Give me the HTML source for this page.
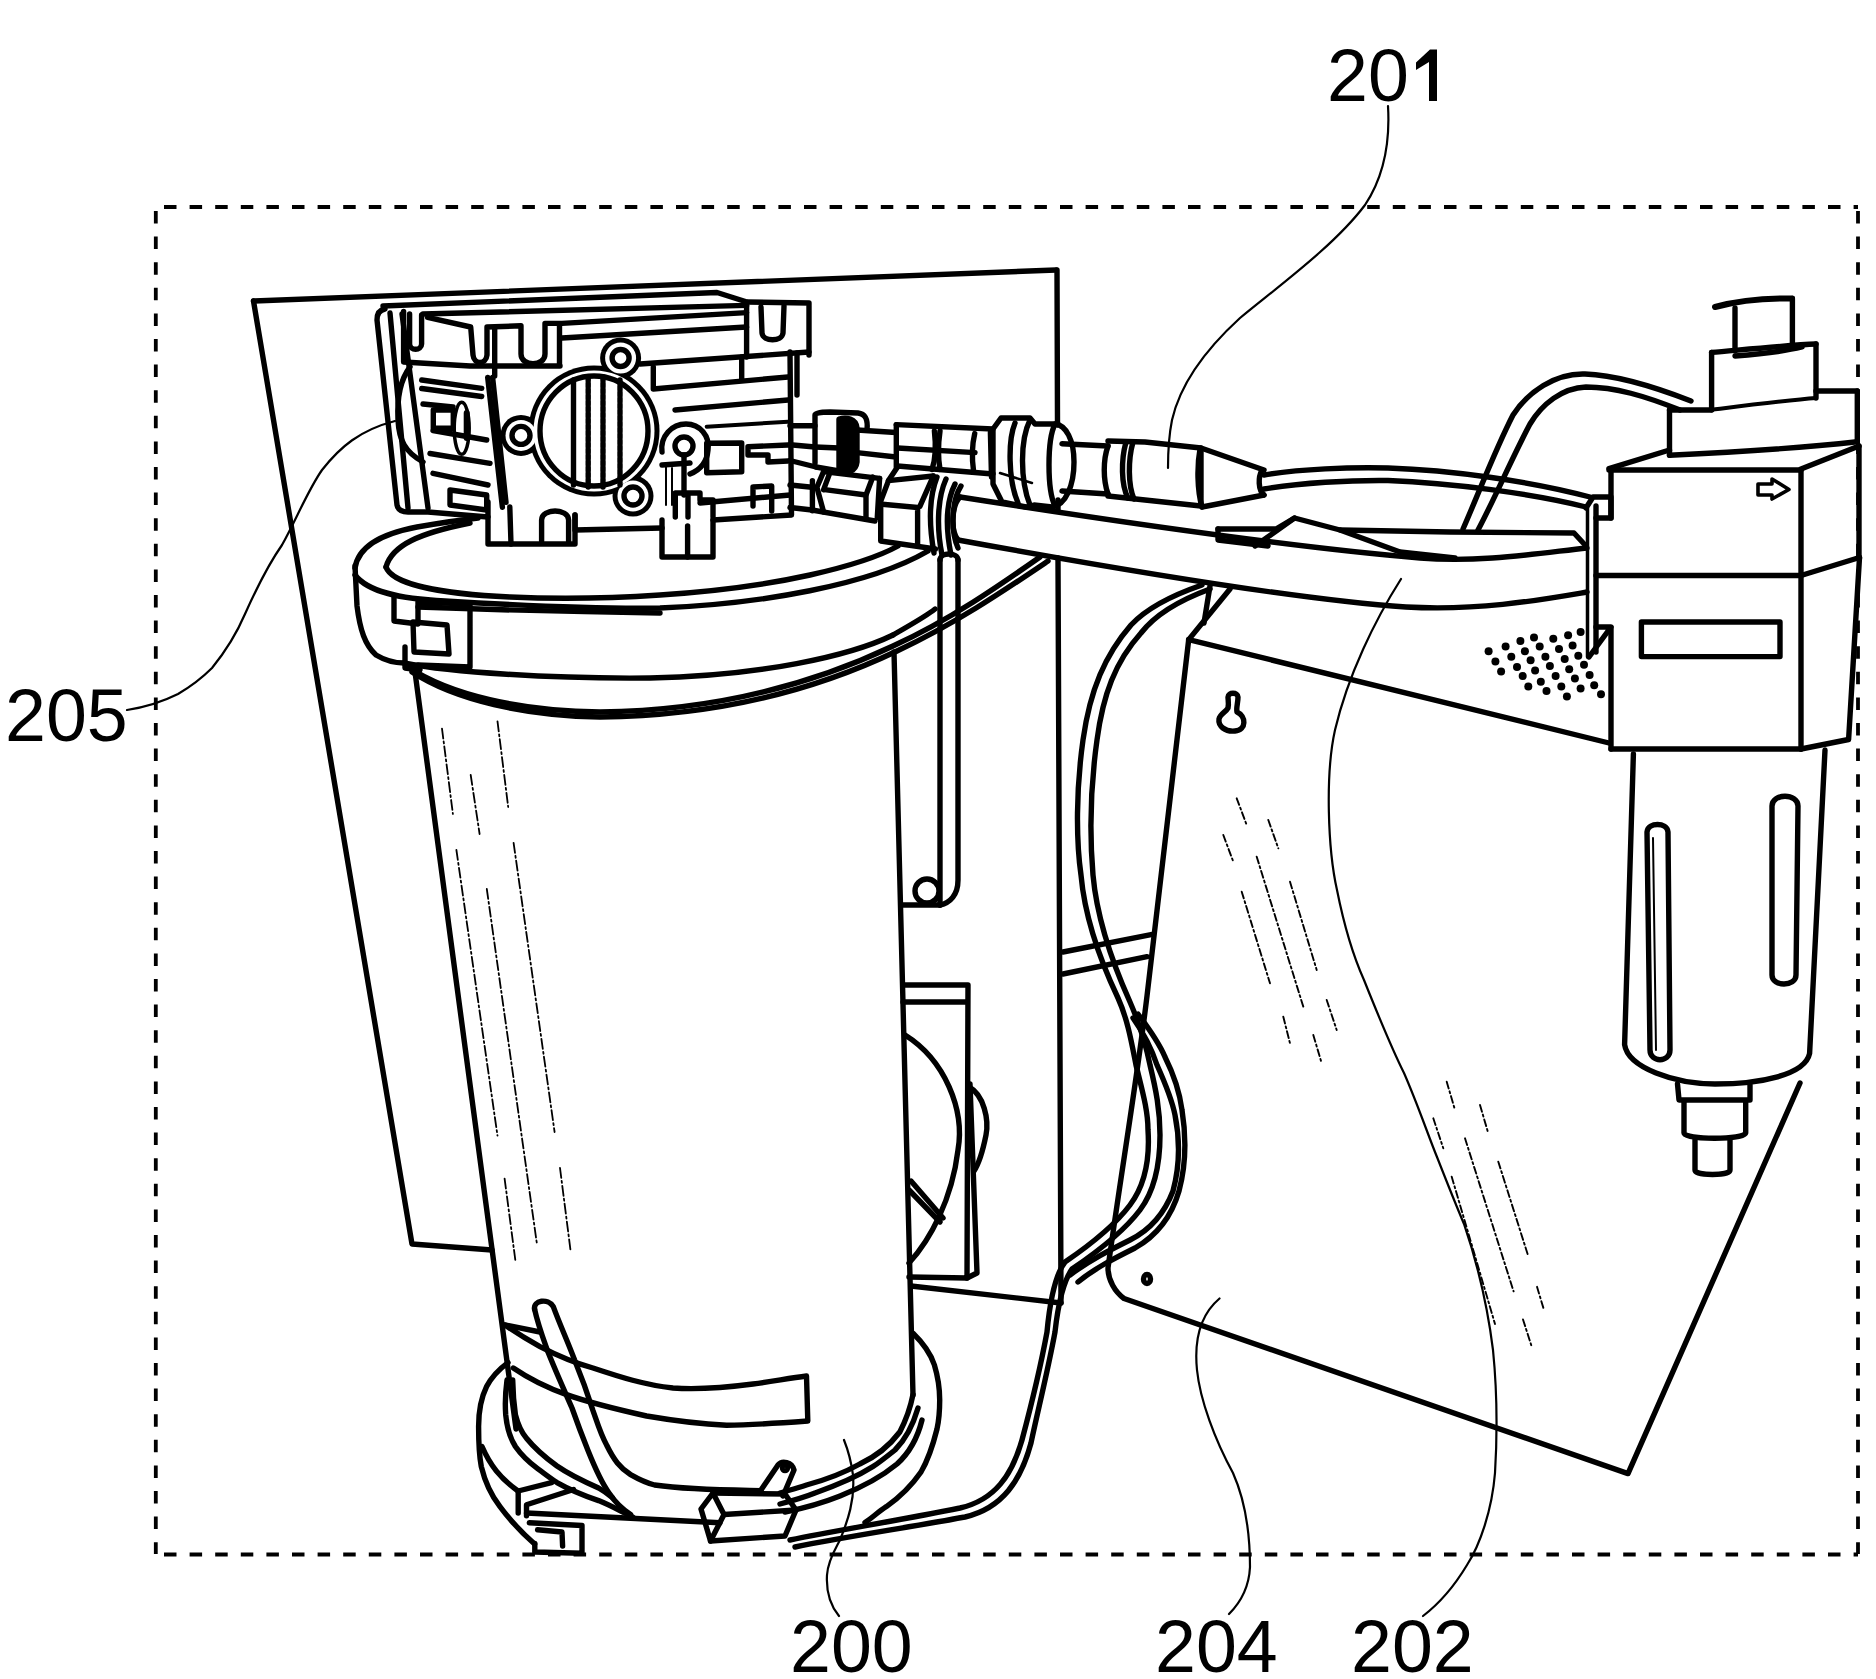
<!DOCTYPE html>
<html><head><meta charset="utf-8"><title>Figure</title>
<style>
html,body{margin:0;padding:0;background:#fff;}
body{width:1876px;height:1679px;overflow:hidden;}
svg{display:block;}
.t{font-family:"Liberation Sans",sans-serif;font-size:73.5px;fill:#000;}
</style></head><body>
<svg width="1876" height="1679" viewBox="0 0 1876 1679">
<rect x="0" y="0" width="1876" height="1679" fill="#fff"/>
<g fill="none" stroke="#000" stroke-linecap="round" stroke-linejoin="round">

<!-- dashed boundary -->
<g stroke-width="3.8" stroke-dasharray="12.5 13.1" stroke-linecap="butt">
<path d="M164 207 H1858"/>
<path d="M164 1554.5 H1858"/>
<path d="M155.8 211 V1554"/>
<path d="M1858 211 V1554"/>
</g>


<!-- ===== BACK PLATE ===== -->
<g stroke-width="5.4">
<path d="M253.5 301 L1056 270"/>
<path d="M253.5 301 L412 1244 L492 1250"/>
<path d="M1057 270 L1057.5 425 M1058 500 L1058 510 M1058 558 L1061 1303"/>
<path d="M911 1286 L1061 1303"/>
</g>

<!-- ===== CYLINDER 200 ===== -->
<g stroke-width="5.4">
<!-- band outer top -->
<path d="M355 568 C358 548 380 534 417 527 C440 523 460 520 478 518"/>
<!-- lid inner -->
<path d="M386 567 C392 545 420 533 470 523"/>
<path d="M386 567 C392 584 440 594 510 597 C600 601 720 595 810 575 C850 566 880 556 898 546"/>
<path d="M355 575 C368 592 400 599 445 601 C530 606 600 609 660 608 C760 604 870 585 928 551"/>
<path d="M418 607 C500 610 580 612 660 613"/>
<!-- band left side -->
<path d="M355 566 L357 606 C360 630 365 645 376 655 C386 661 395 663 404 663"/>
<!-- band bottom edge -->
<path d="M404 663 C450 672 550 679 650 678 C760 676 850 656 893 635"/>
<path d="M893 635 C910 625 925 617 935 609"/>
<!-- rim double -->
<path d="M408 667 C450 695 520 711 600 712 C700 711 800 690 893 646 C950 620 1000 585 1040 557"/>
<path d="M412 672 C455 700 525 716 600 717 C705 716 805 695 897 651 C955 624 1005 590 1048 561"/>
<!-- clip on band -->
<path d="M394 597 L394 621 L418 624 L418 602 L470 604 L470 667 L418 665"/>
<path d="M413 622 L447 625 L449 654 L414 652 Z"/>
<path d="M405 647 L405 668 L420 670"/>
<!-- body edges -->
<path d="M415 672 L516 1429"/>
<path d="M894 652 L913 1395"/>
</g>
<!-- cylinder shading dashes -->
<g stroke-width="1.8" stroke-dasharray="10 3 2 3">
<path d="M442 728.6 L452.9 814"/><path d="M497.5 721.4 L508.2 807"/><path d="M470.7 775 L479.6 834"/>
<path d="M456.4 850 L497.5 1135.7"/><path d="M486.8 889 L536.8 1243"/><path d="M513.6 842.9 L554.6 1132"/>
<path d="M504.6 1178.6 L515.4 1260.7"/><path d="M560 1168 L570.7 1251.8"/>
</g>

<!-- cylinder bottom -->
<g stroke-width="5.4">
<!-- strap -->
<path d="M505 1325 C515 1332 528 1340 540 1346.6 C560 1357 575 1363 593 1368 C620 1377 645 1385 673 1388 C700 1390 730 1387 753 1384 C775 1381 790 1378 806.5 1376 L807.8 1421 C780 1423 750 1425 726.5 1425.3 C700 1424 670 1420 646.6 1416 C620 1410 590 1403 566.6 1394.6 C545 1387 528 1378 513.3 1368"/>
<path d="M505 1325 L540 1332"/>
<!-- inner tube -->
<path d="M534.6 1309.3 C533 1300 548 1298 553.3 1306.6 C560 1325 568 1342 574.6 1360 C582 1378 588 1395 593 1410.6 C598 1425 601 1435 606.6 1445 C614 1460 620 1468 630.6 1474.6 C640 1480 647 1483 654.6 1485 C690 1490 725 1490 761 1490.6"/>
<path d="M534.6 1309.3 C538 1325 543 1338 548 1352 C556 1372 565 1392 572 1408 C578 1425 583 1438 588 1450.6 C595 1468 601 1482 609 1493 C615 1502 622 1509 630.6 1514.5"/>
<!-- cylinder bottom rim right (double) -->
<path d="M913 1394.6 C910 1410 905 1422 899.8 1432 C890 1445 875 1457 859.8 1464 C842 1474 825 1480 806.5 1485 C797 1488 790 1490 780 1493"/>
<path d="M918 1408 C913 1425 905 1440 895 1450 C885 1458 880 1462 873 1466.6 C855 1478 835 1486 815 1493 C805 1497 795 1500 780 1504"/>
<path d="M922 1420 C917 1440 907 1455 897 1464 C880 1478 860 1488 840 1496 C820 1504 805 1508 785 1512"/>
<!-- base ring outer -->
<path d="M508 1362.6 C498 1370 491 1378 486.6 1386.6 C481 1398 478.6 1412 478.6 1426.6 C478.6 1442 479 1455 481.3 1466.6 C485 1482 491 1495 500 1506.6 C510 1520 522 1533 534.6 1544"/>
<path d="M913 1333.3 C922 1342 930 1352 934.4 1365 C938 1377 939.7 1388 939.7 1400 C939.7 1410 939 1420 937 1429 C933 1445 928 1460 921 1472 C912 1485 900 1497 886.4 1506.6 C878 1512 872 1518 865 1522.5"/>
<!-- base ring inner -->
<path d="M507 1380 C505 1395 505 1405 505.7 1414.7 C507 1428 510 1438 515.4 1446.5 C522 1456 530 1463 537.6 1468.7 C545 1474 550 1478 557 1482.6 C570 1490 585 1496 598.6 1500.6 C612 1506 622 1512 633 1517.2"/>
<path d="M512.7 1380 C513 1395 514 1405 515.4 1414.7 C518 1425 521 1432 526.5 1438.2 C536 1450 546 1458 557 1466 C570 1475 585 1482 598.6 1488 C604 1491 608 1494 612.5 1497.8"/>
<path d="M482 1446.5 C490 1465 500 1478 518 1491"/>
<!-- clip bottom left -->
<path d="M518.2 1513 L518.2 1491 L551.5 1482.6"/>
<path d="M526.5 1515.8 L526.5 1504.7 L573.6 1489.5"/>
<path d="M526.5 1513 L720 1522.8"/>
<path d="M529.3 1522.8 L582 1525.5 L582 1553.3 L534.8 1552 L534.8 1543.5"/>
<path d="M537.6 1529.7 L562 1532 L562.6 1546"/>
<!-- small block -->
<path d="M701 1509 L713 1493 L724 1514.5 L710.5 1541 Z"/>
<path d="M713 1493 L785 1494 L796 1510 L785 1536 L710.5 1541"/>
<path d="M724 1514.5 L796 1510"/>
<!-- pin -->
<path d="M761 1490 L778 1465 C782 1460 792 1462 794 1470 L783 1496"/>
<circle cx="785" cy="1468" r="2.5"/>
</g>
<!-- ===== MOTOR BOX BEHIND ===== -->
<g stroke-width="5.4">
<path d="M903 985 L968 985 L967 1278 L909 1277"/>
<path d="M903 1002 L966 1002"/>
<path d="M970 1084 L977 1273 L967 1278"/>
<path d="M905 1035 C945 1060 965 1110 958 1150 C952 1200 930 1240 909 1263"/>
<path d="M911 1181 L943 1218"/><path d="M909 1190 L940 1222"/>
<path d="M969 1087 C984 1095 989 1120 986 1135 C983 1150 978 1165 974 1171"/>
<!-- bracket right of cylinder -->
<path d="M940 560 L940 905"/>
<path d="M958 560 L958 880 C958 895 950 903 940 905"/>
<path d="M901 905 L940 905"/>
<circle cx="927" cy="891" r="12"/>
<path d="M940 560 C940 552 958 552 958 560"/>
</g>


<!-- ===== BOX 204 ===== -->
<g stroke-width="5.4">
<path d="M1188.7 639.6 L1609 743"/>
<path d="M1188.7 639.6 C1175 760 1160 880 1147 996 C1137 1080 1120 1180 1108 1268 C1108 1280 1115 1292 1124 1298.5 L1628 1473.6 L1800 1083"/>
<path d="M1188.7 639.6 L1230 589"/>
<path d="M1204 623 L1210 586"/>
<!-- keyhole -->
<path d="M1228 697 C1228 692 1238 692 1238 697 C1238 703 1236 708 1237 712 C1246 716 1247 730 1235 731 C1225 732 1218 726 1219 719 C1220 714 1226 712 1228 708 C1229 704 1228 700 1228 697 Z"/>
<ellipse cx="1147" cy="1279" rx="3.5" ry="4.5"/>
<!-- strap between plate and box -->
<path d="M1063 952 L1151 934.6"/>
<path d="M1063 974 L1147 956.7"/>
</g>
<g stroke-width="1.9" stroke-dasharray="7 3 2 3">
<path d="M1236.7 798.3 L1246.7 825"/><path d="M1223.3 835 L1233.3 861.7"/><path d="M1268.3 820 L1278.3 848.3"/>
<path d="M1256.7 856.7 L1303.3 1006.7"/><path d="M1241.7 891.7 L1270 983.3"/><path d="M1290 881.7 L1316.7 970"/>
<path d="M1326.7 1000 L1336.7 1030"/><path d="M1283.3 1016.7 L1290 1043.3"/><path d="M1313.3 1035 L1321.7 1063.3"/>
<path d="M1446.7 1081.7 L1455 1110"/><path d="M1480 1105 L1488.3 1133.3"/><path d="M1433.3 1118.3 L1443.3 1148.3"/>
<path d="M1465 1138.3 L1513.6 1291.4"/><path d="M1498.3 1161.7 L1527.6 1254"/><path d="M1451.7 1176.7 L1495 1324"/>
<path d="M1537 1286.8 L1544 1310"/><path d="M1523 1319.5 L1532 1347.5"/>
</g>

<!-- ===== FILTER 202 ===== -->
<g stroke-width="5.4">
<!-- knob -->
<path d="M1715 307 C1740 300 1770 298 1792 298.5" stroke-width="6"/>
<path d="M1735 308 L1735 351"/><path d="M1792.4 298.5 L1792.4 346"/>
<!-- tier 2 -->
<path d="M1711.6 352.4 L1711.6 409.7"/><path d="M1816 344 L1816 398"/>
<path d="M1711.6 352.4 C1740 350 1790 345 1816 344"/>
<path d="M1735 356 C1760 354 1790 350 1802 347"/>
<path d="M1711.6 409.7 C1750 405 1790 400 1816 398" stroke-width="4"/>
<!-- tier 3 -->
<path d="M1669.5 410 L1669.5 455.2"/><path d="M1857.3 391 L1857.3 441.7"/>
<path d="M1669.5 410 L1711.6 410"/><path d="M1816 391 L1857.3 391"/>
<path d="M1669.5 455.2 C1740 452 1800 448 1857.3 441.7"/>
<!-- head top face -->
<path d="M1609 468.7 L1669.5 450"/><path d="M1801 469 L1859 446"/>
<path d="M1609 470 L1801 470"/>
<!-- head front -->
<path d="M1611 470 L1611 518 M1611 628 L1611 749"/><path d="M1801 470 L1801 749"/>
<path d="M1596 575.5 L1801 575.5"/>
<path d="M1611 749 L1801 749"/>
<!-- head right side -->
<path d="M1859 446 L1859 557.5"/>
<path d="M1801 575.5 L1859.5 557.5"/>
<path d="M1859.5 557.5 L1848.6 739.5 L1801 749"/>
<!-- arrow -->
<path d="M1758 484 L1772 484 L1772 479 L1789 489.5 L1772 499 L1772 495 L1758 495 Z" stroke-width="3.6"/>
<!-- slot -->
<rect x="1641.4" y="622" width="138.6" height="34.6"/>
<!-- left bracket -->
<path d="M1586 508 L1593 497 L1611 497 L1611 518 L1596 518"/>
<path d="M1587.5 508 L1587.5 657" stroke-width="3.5"/><path d="M1596 506 L1596 652"/>
<path d="M1589 657 L1611 627 L1596 627"/>
<!-- bowl -->
<path d="M1633.4 754 L1624.6 1044.7 C1628 1068 1675 1084 1715 1084 C1760 1084 1805 1075 1809.6 1053.5 L1825 750"/>
<!-- slots -->
<path d="M1647 832 C1648 822 1667 822 1668 832 L1670 1050 C1670 1063 1650 1063 1650 1050 Z"/>
<path d="M1653 838 L1656 1050" stroke-width="2"/>
<path d="M1772 806 C1772 793 1798 793 1798 806 L1796 975 C1796 987 1772 987 1772 975 Z"/>
<!-- drain -->
<path d="M1677.5 1084 L1679 1100 L1750 1100 L1750 1085"/>
<path d="M1684 1102 L1684 1133 C1684 1140 1745 1140 1745.7 1133 L1745.7 1102"/>
<path d="M1695 1140 L1695 1170 C1695 1176 1730 1176 1730 1170 L1730 1140"/>
</g>
<!-- vent dots -->
<g stroke="none" fill="#000">
<circle cx="1488.6" cy="651.2" r="4"/>
<circle cx="1505.6" cy="646.6" r="4"/>
<circle cx="1520.4" cy="641.0" r="4"/>
<circle cx="1534.0" cy="637.5" r="4"/>
<circle cx="1553.3" cy="638.7" r="4"/>
<circle cx="1568.1" cy="635.3" r="4"/>
<circle cx="1580.6" cy="631.9" r="4"/>
<circle cx="1495.4" cy="661.4" r="4"/>
<circle cx="1511.3" cy="656.8" r="4"/>
<circle cx="1524.9" cy="651.2" r="4"/>
<circle cx="1539.7" cy="646.6" r="4"/>
<circle cx="1559.0" cy="648.9" r="4"/>
<circle cx="1572.6" cy="645.5" r="4"/>
<circle cx="1578.3" cy="655.7" r="4"/>
<circle cx="1501.1" cy="671.6" r="4"/>
<circle cx="1517.0" cy="667.1" r="4"/>
<circle cx="1530.6" cy="660.3" r="4"/>
<circle cx="1545.4" cy="656.8" r="4"/>
<circle cx="1564.7" cy="659.1" r="4"/>
<circle cx="1584.0" cy="664.8" r="4"/>
<circle cx="1522.7" cy="676.1" r="4"/>
<circle cx="1535.1" cy="670.5" r="4"/>
<circle cx="1549.9" cy="665.9" r="4"/>
<circle cx="1569.2" cy="669.3" r="4"/>
<circle cx="1589.6" cy="675.0" r="4"/>
<circle cx="1528.3" cy="686.4" r="4"/>
<circle cx="1540.8" cy="681.8" r="4"/>
<circle cx="1555.6" cy="676.1" r="4"/>
<circle cx="1574.9" cy="678.4" r="4"/>
<circle cx="1594.2" cy="685.2" r="4"/>
<circle cx="1546.5" cy="690.9" r="4"/>
<circle cx="1561.3" cy="686.4" r="4"/>
<circle cx="1580.6" cy="688.6" r="4"/>
<circle cx="1601.0" cy="694.3" r="4"/>
<circle cx="1566.9" cy="696.6" r="4"/>
</g>



<!-- ===== GEARBOX 205 ===== -->
<g stroke-width="5.4">
<path fill="#fff" stroke="none" d="M377 318 L383 305 L717 292 L747 302 L809 303 L809 355 L792 355 L792 515 L713 520 L713 557 L662 557 L662 528 L575 530 L575 544 L488 544 L488 517 L400 512 L397 506 Z"/>
<!-- flange left -->
<path d="M385 309 C379 310 377 314 377 320 L397 505 C398 510 402 512 408 512 L428 512 L488 517"/>
<path d="M390 313 L408 508"/>
<path d="M402 314 L428 508"/>
<!-- top rim -->
<path d="M383 306 L717 292.5 L747 302 L809 303 L809 355"/>
<path d="M423 314 L746.6 305.4"/>
<!-- top frame with slots -->
<path d="M403.6 311.5 L403.6 362 L470 366 L560 366"/>
<path d="M409.6 314 L409.6 344 C409.6 351 421.6 351 421.6 344 L421.6 315"/>
<path d="M427.6 317.4 L470.7 327 L473 355 C474 365 486 365 487 355 L487 327 L521 325.8 L521 354 C521 367 545 367 545 354 L545 323.4 L562 323.4 L746.6 312.6"/>
<path d="M562 338 L746.6 327"/>
<path d="M559.5 324 L559.5 365"/>
<path d="M494.7 328 L494.7 376"/>
<!-- right block -->
<path d="M746.6 305.4 L746.6 357"/>
<path d="M640 364 L809 352"/>
<path d="M761 307 L762 333 C763 342 782 342 783 333 L784 306"/>
<!-- right face bars -->
<path d="M653.3 367 L653.3 389 L788 377"/>
<path d="M741.7 357 L741.7 380"/>
<path d="M675 410 L788 400" stroke-width="5.4"/>
<path d="M706.7 426.7 L788 421.7" stroke-width="4"/>
<path d="M706.7 443.3 L741.7 443 L741.7 471.7 L706.7 472.7 Z"/>
<path d="M748 446.7 L788 445 M748 446.7 L748 455 L768 455 L768 462 L788 461"/>
<path d="M753 487 L771.7 486 L771.7 511 M753 487 L753 506"/>
<path d="M700 503 L790 495"/>
<path d="M790 352 L791.5 515 L713 520"/>
<path d="M797 353 L797 395"/>
<!-- front face left edge -->
<path d="M487.7 377.4 L502.4 507.3"/>
<path d="M492.6 377.4 L506 502.4"/>
<!-- bore flange -->
<g stroke="none" fill="#000">
<circle cx="594" cy="431" r="65.5"/><circle cx="620.6" cy="358" r="20.5"/><circle cx="521" cy="435.4" r="20.5"/><circle cx="633" cy="496" r="20.5"/>
</g>
<g stroke="none" fill="#fff">
<circle cx="594" cy="431" r="60.5"/><circle cx="620.6" cy="358" r="15.5"/><circle cx="521" cy="435.4" r="15.5"/><circle cx="633" cy="496" r="15.5"/>
</g>
<ellipse cx="594" cy="431" rx="54" ry="55" stroke-width="5.4"/>
<circle cx="620.6" cy="358" r="8.5"/>
<circle cx="521" cy="435.4" r="9"/>
<circle cx="633" cy="496" r="9"/>
<!-- right boss -->
<path d="M662 452 C660 436 672 424 686 424 C700 424 710 436 708 450 C707 462 700 470 690 474"/>
<circle cx="684" cy="446" r="9"/>
<path d="M684 455 L684 495"/>
<path d="M666 466 L666 505 M672 468 L672 505" stroke-width="2"/>
<path d="M662 465 L690 463"/>
<!-- bore vertical lines -->
<path d="M573.5 380 L573.5 485"/>
<path d="M588.2 377 L588.2 487" stroke-dasharray="4 2"/>
<path d="M603 377 L603 487" stroke-dasharray="4 2"/>
<path d="M620 380 L620 485" stroke-dasharray="4 2"/>
<!-- left side face bars -->
<path d="M421.7 380 L481.7 388.3"/><path d="M421.7 388.5 L481.7 396.5"/>
<path d="M423 404 L453 407"/>
<path d="M433 430.5 L486.7 440"/>
<path d="M430 453.5 L490 463.3"/>
<path d="M433 473.3 L488 485"/>
<path d="M450 490 L486.7 495 L486.7 510 L450 505 Z"/>
<path d="M410 367 C400 380 397 400 398 420 C399 440 405 452 423 462"/>
<!-- bolt -->
<path d="M433.3 428.3 L433.3 410 L453.3 410 L453.3 428.3 Z"/>
<ellipse cx="461.7" cy="428.3" rx="7.5" ry="26" stroke-width="3.5"/>
<path d="M466.7 413 L466.7 438" stroke-width="6"/>
<!-- feet -->
<path d="M488 502 L488 544 L575 544 L575 515"/>
<path d="M509.8 507 L511 544"/>
<path d="M541.6 541 L541.6 520 C541.6 508 568.6 508 568.6 520 L568.6 541"/>
<path d="M575 515 L575 530 L662 528"/>
<path d="M662 520 L662 557 L713 557 L713 520"/>
<path d="M687.6 526 L687.6 557"/>
<path d="M675.3 517 L675.3 493 L700 493 L700 500 L713 500 L713 517"/>
<path d="M688 494 L688 517"/>
</g>

<!-- ===== FITTINGS & PIPES ===== -->
<g stroke-width="5.4">
<!-- lines gearbox->nut1 -->
<path d="M790 425.7 L815 425.7"/><path d="M790 444.8 L815 447"/><path d="M790 460.5 L816 467"/>
<!-- nut1 -->
<path d="M815 463 L815 415 C815 413 820 412 830 412 L858 413 C866 414 868 420 867 430"/>
<path d="M839 419 C846 417 856 418 857 428 L857 462 C856 472 846 474 839 471 Z" fill="#000"/>
<path d="M815 447 L839 448"/><path d="M816 467 L839 471"/>
<!-- tube1 -->
<path d="M857 430 L896 432.5"/><path d="M857 452.6 L896 457"/>
<!-- hex2 + tube2 -->
<path d="M896.3 424.6 L896.3 467"/>
<path d="M896.3 424.6 L993 429"/>
<path d="M897.5 448 L975 452.6"/>
<path d="M897.5 466 L993 474"/>
<path d="M934.4 431 C936 445 936 458 932 469.4"/>
<path d="M940 431 C938 445 938 458 940 469.4"/>
<path d="M974.7 433.6 C972 445 972 460 973.6 471.6"/>
<path d="M990.4 432.5 L991.5 477"/>
<!-- nut3 -->
<path d="M993 429 L1001 418 L1030 418 L1035 424 L1055 424 C1066 425 1074 440 1074 462 C1074 485 1066 505 1052 507 L1034 505 L1026 507 L1002 502 L993 484 Z"/>
<path d="M1015 423 C1008 440 1008 480 1018 503"/>
<path d="M1030 420 C1020 440 1020 480 1030 505"/>
<path d="M1055 424 C1047 440 1047 490 1055 506"/>
<path d="M1000 473 L1032 483" stroke-width="2.5"/>
<!-- tube3 -->
<path d="M1062 443.7 L1108 446"/><path d="M1062 491 L1108 494"/>
<!-- sleeve -->
<path d="M1108 446 C1103 460 1103 480 1108 494"/>
<path d="M1108 441 L1145 442 L1201 448 L1201 506 L1145 500 L1108 496"/>
<path d="M1126 442 C1121 460 1121 485 1128 498"/>
<path d="M1133 442 C1128 460 1128 485 1134 499"/>
<path d="M1200 449 C1197 465 1197 490 1202 507"/>
<!-- cone -->
<path d="M1201 448 L1264 470"/><path d="M1202 507 L1264 495"/>
<path d="M1262 470 C1258 477 1258 490 1264 495"/>
<!-- lower chain -->
<path d="M790 485 L812 487.3"/><path d="M790 507.5 L812 510"/>
<path d="M812.4 480.6 L812.4 510.8"/>
<path d="M812 510 L875 521"/>
<path d="M823.6 471.6 L816.9 487.3 L823.6 512"/>
<path d="M830.3 471.6 L823.6 489.6"/>
<path d="M824.7 489.6 L866 495"/>
<path d="M823.6 471.6 L879.6 478.4"/>
<path d="M872.8 477 L866 495 L866 517"/>
<path d="M879.6 478.4 L877.3 517.5"/>
<!-- lower hex -->
<path d="M880.7 503 L880.7 541 L935.5 549"/>
<path d="M879.6 504 L917.6 507.5 L917.6 546"/>
<path d="M888.5 480.6 L897.5 467"/>
<path d="M879.6 504 L888.5 480.6 L933.3 476"/>
<path d="M919.9 506.3 L933.3 476"/>
<!-- rings -->
<path d="M937 477 C930 495 928 520 934 553"/>
<path d="M946 479 C938 497 936 525 942 555"/>
<path d="M955 484 C947 500 945 525 951 555"/>
<path d="M961 486 C952 500 950 530 958 548" />
<!-- big pipe -->
<path d="M960 497 C1100 519 1300 548 1420 558 C1480 563 1540 553 1587 548"/>
<path d="M958 540 C1100 566 1300 600 1406 607 C1480 611 1540 600 1587 592"/>
<path d="M960 497 C952 505 950 530 958 540"/>
<!-- thin signal tube -->
<path d="M1264 475 C1300 469 1350 467 1388 468 C1450 470 1530 481 1590 497"/>
<path d="M1264 489 C1300 483 1350 480 1388 480.5 C1450 483 1530 493 1586 507"/>
<!-- box 204 flap -->
<path d="M1218 529 L1218 540 L1268 546"/>
<path d="M1218 529 L1276 529 L1294.5 518 L1340 530 L1450 532 L1574 533 L1586 546"/>
<path d="M1294.5 518 L1255 546"/>
<path d="M1340 530 L1400 552 L1455 558"/>
<!-- wire loop from filter top -->
<path d="M1691 401 C1650 385 1615 375 1585 374 C1555 373 1528 392 1513 415 C1495 450 1478 495 1463 529"/>
<path d="M1680 410 C1645 396 1615 387 1586 387 C1562 388 1542 404 1530 424 C1512 458 1494 500 1478 530"/>
<!-- wire loop down (from box top) -->
<path d="M1202 585 C1170 596 1145 610 1131 625 C1105 655 1090 690 1083 740 C1076 790 1076 840 1081 875 C1085 920 1100 960 1118 998 C1128 1020 1132 1045 1136 1065 C1142 1090 1148 1110 1148 1130 C1150 1160 1145 1185 1130 1205 C1115 1225 1090 1245 1065 1262 C1055 1275 1050 1300 1047 1332 C1040 1370 1030 1410 1022 1440 C1012 1475 995 1500 960 1508 C900 1520 840 1530 790 1540"/>
<path d="M1210 589 C1180 600 1155 615 1141 633 C1115 662 1103 695 1097 740 C1090 790 1090 840 1093 875 C1097 920 1112 962 1130 1002 C1140 1025 1146 1045 1150 1065 C1156 1090 1160 1110 1160 1135 C1160 1165 1155 1190 1140 1210 C1125 1230 1100 1250 1072 1269 C1063 1282 1058 1305 1055 1332 C1048 1370 1038 1410 1031 1443 C1021 1480 1003 1508 965 1517 C905 1528 845 1537 795 1547"/>
<path d="M1133 1018 C1145 1035 1152 1050 1157 1065 C1166 1085 1172 1100 1175 1115 C1180 1140 1180 1165 1173 1191 C1165 1212 1150 1230 1130 1240 C1110 1250 1090 1260 1070 1275"/>
<path d="M1138 1014 C1150 1030 1160 1045 1165 1057 C1174 1075 1180 1095 1182 1110 C1186 1135 1186 1165 1179 1191 C1172 1215 1158 1235 1135 1248 C1115 1258 1095 1268 1078 1282"/>
</g>

<!-- leaders (thin) -->
<g stroke-width="2.2">
<path id="L201" d="M1388 106 C1390 140 1385 175 1365 205 C1335 245 1280 285 1240 318 C1205 350 1180 385 1172 420 C1168 440 1168 455 1168 468"/>
<path id="L205" d="M127 710 C140 708 160 703 178 694 C195 684 205 675 212 668 C225 652 236 635 245 614 C258 585 268 565 282 545 C296 520 308 490 322 470 C340 447 360 430 395 421"/>
<path id="L200" d="M839 1616 C830 1605 826 1592 827 1575 C828 1560 836 1548 840 1540 C848 1520 855 1500 853 1475 C851 1460 848 1450 844 1440"/>
<path id="L204" d="M1219.5 1298.5 C1200 1315 1194 1340 1197 1370 C1200 1400 1215 1440 1233 1473 C1245 1500 1250 1535 1250 1567 C1249 1588 1240 1603 1229 1614"/>
<path id="L202" d="M1401 579 C1375 620 1348 675 1335 730 C1325 775 1328 850 1337 890 C1345 930 1355 960 1364 980 C1378 1015 1390 1045 1404 1073 C1418 1105 1428 1135 1437 1157 C1448 1185 1456 1205 1464 1224 C1478 1265 1488 1310 1493 1350 C1498 1400 1497 1440 1495 1473 C1492 1510 1480 1545 1467 1565 C1455 1585 1440 1603 1423 1616"/>
</g>

</g>
<text class="t" x="1327" y="101">20</text>
<path d="M1437 49.5 L1437 101 L1429 101 L1429 62 L1416 70 L1416 62.5 L1430 49.5 Z" fill="#000"/>
<text class="t" x="5" y="740.5">205</text>
<text class="t" x="790" y="1672">200</text>
<text class="t" x="1155" y="1672">204</text>
<text class="t" x="1351" y="1672">202</text>
</svg>
</body></html>
